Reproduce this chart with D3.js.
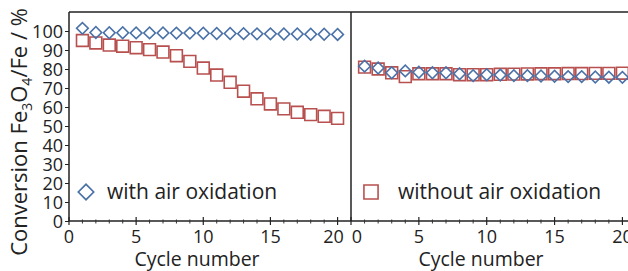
<!DOCTYPE html>
<html>
<head>
<meta charset="utf-8">
<script src="https://cdn.jsdelivr.net/npm/d3@7"></script>
<style>
  body { margin: 0; background: #fff; }
  text { font-family: "Open Sans", sans-serif; fill: #222; }
</style>
</head>
<body>
<div id="chart"></div>
<script>
(function() {
  const width = 628;
  const height = 271;

  const cycles = d3.range(1, 21);
  // left panel: with air oxidation
  const withAirDiamonds = [101.4, 99.2, 99.1, 99.1, 99.0, 99.0, 99.0, 98.9, 98.9, 98.8, 98.7, 98.7, 98.6, 98.5, 98.5, 98.4, 98.4, 98.3, 98.3, 98.2];
  const withAirSquares = [95.0, 93.7, 92.6, 92.0, 91.2, 90.2, 88.9, 87.0, 84.0, 80.5, 76.8, 73.0, 68.3, 64.3, 61.6, 59.0, 57.2, 56.0, 55.1, 54.0];
  // right panel: without air oxidation
  const withoutAirDiamonds = [81.5, 80.5, 78.0, 79.0, 78.3, 78.0, 78.0, 77.5, 76.5, 77.0, 76.8, 76.5, 76.5, 76.3, 76.2, 76.0, 76.0, 75.8, 75.7, 75.6];
  const withoutAirSquares = [81.0, 80.0, 78.0, 76.0, 77.5, 77.5, 77.5, 77.0, 77.0, 77.0, 77.2, 77.3, 77.4, 77.5, 77.5, 77.6, 77.6, 77.7, 77.7, 77.8];
  const yTicks = [0, 10, 20, 30, 40, 50, 60, 70, 80, 90, 100];
  const xTicks = [0, 5, 10, 15, 20];

  const blue = "#4a72a8";
  const red = "#b8504f";

  const top = 12, bottom = 221;
  const svg = d3.select("#chart").append("svg")
    .attr("width", width).attr("height", height);

  const y = d3.scaleLinear().domain([0, 110]).range([bottom, top]);
  const xLeft = d3.scaleLinear().domain([0, 21]).range([69, 351]);
  const xRight = d3.scaleLinear().domain([0, 21]).range([351, 636]);

  // frame lines
  svg.append("line").attr("x1", 69).attr("x2", width).attr("y1", top).attr("y2", top)
    .attr("stroke", "#222").attr("stroke-width", 1.5);
  svg.append("line").attr("x1", 351).attr("x2", 351).attr("y1", top).attr("y2", bottom)
    .attr("stroke", "#222").attr("stroke-width", 1.5);

  // y axis
  const yAxis = svg.append("g").attr("transform", "translate(69,0)")
    .call(d3.axisLeft(y).tickValues(yTicks).tickSize(4).tickPadding(2));
  yAxis.select(".domain").attr("d", `M0,${bottom}V${top}`).attr("stroke", "#222").attr("stroke-width", 1.5);
  yAxis.selectAll("line").attr("stroke", "#222");
  yAxis.selectAll("text").attr("font-size", "18px").attr("dy", "0.36em")
    .style("font-family", "'Open Sans', sans-serif").style("fill", "#222");

  function xAxisPanel(x, labelX, side) {
    const g = svg.append("g").attr("transform", `translate(0,${bottom})`);
    g.append("line").attr("x1", x.range()[0]).attr("x2", Math.min(x.range()[1], width))
      .attr("stroke", "#222").attr("stroke-width", 1.5);
    // minor ticks
    g.selectAll(".minor").data(d3.range(1, 21).filter(d => d % 5 !== 0)).join("line")
      .attr("x1", d => x(d)).attr("x2", d => x(d))
      .attr("y1", -1.5).attr("y2", 2.5).attr("stroke", "#333");
    g.selectAll(".major").data(xTicks).join("line")
      .attr("x1", d => x(d)).attr("x2", d => x(d))
      .attr("y1", -4).attr("y2", 4).attr("stroke", "#222").attr("stroke-width", 1.2);
    g.selectAll(".lab").data(xTicks).join("text")
      .attr("x", d => x(d)).attr("y", 22)
      .attr("dx", d => (side === "left" && d === 20) ? -4 : (side === "right" && d === 0) ? 6 : 0)
      .attr("text-anchor", "middle").attr("font-size", "18px")
      .text(d => d);
    svg.append("text")
      .attr("x", labelX).attr("y", 266)
      .attr("text-anchor", "middle").attr("font-size", "19.5px")
      .text("Cycle number");
  }
  xAxisPanel(xLeft, 197, "left");
  xAxisPanel(xRight, 481, "right");

  const diamond = d3.symbol().type(d3.symbolSquare).size(68);
  const square = d3.symbol().type(d3.symbolSquare).size(140);

  function drawSeries(x, vals, kind) {
    const sym = kind === "d" ? diamond : square;
    svg.append("g").selectAll("path")
      .data(vals.map((v, i) => ({ c: cycles[i], v })))
      .join("path")
      .attr("d", sym)
      .attr("transform", d => `translate(${x(d.c)},${y(d.v)})` + (kind === "d" ? " rotate(45)" : ""))
      .attr("fill", "none")
      .attr("stroke", kind === "d" ? blue : red)
      .attr("stroke-width", 1.6);
  }
  drawSeries(xLeft, withAirSquares, "s");
  drawSeries(xLeft, withAirDiamonds, "d");
  drawSeries(xRight, withoutAirSquares, "s");
  drawSeries(xRight, withoutAirDiamonds, "d");

  // legends
  svg.append("path").attr("d", d3.symbol().type(d3.symbolSquare).size(120))
    .attr("transform", "translate(86,192) rotate(45)")
    .attr("fill", "none").attr("stroke", blue).attr("stroke-width", 1.6);
  svg.append("text").attr("x", 107).attr("y", 199).attr("font-size", "21px")
    .text("with air oxidation");
  svg.append("path").attr("d", d3.symbol().type(d3.symbolSquare).size(200))
    .attr("transform", "translate(371,192)")
    .attr("fill", "none").attr("stroke", red).attr("stroke-width", 1.6);
  svg.append("text").attr("x", 398).attr("y", 199).attr("font-size", "21px")
    .text("without air oxidation");

  // y label
  const yl = svg.append("text")
    .attr("transform", "translate(27,132) rotate(-90)")
    .attr("text-anchor", "middle").attr("font-size", "22px");
  yl.append("tspan").text("Conversion Fe");
  yl.append("tspan").attr("font-size", "14px").attr("dy", 5).text("3");
  yl.append("tspan").attr("dy", -5).text("O");
  yl.append("tspan").attr("font-size", "14px").attr("dy", 5).text("4");
  yl.append("tspan").attr("dy", -5).text("/Fe / %");
})();
</script>
</body>
</html>
